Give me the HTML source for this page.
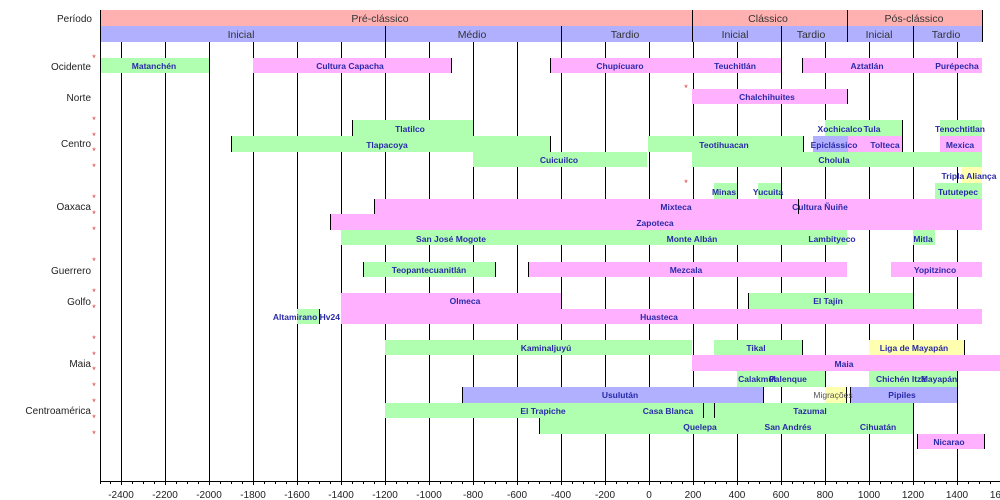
<!DOCTYPE html>
<html><head><meta charset="utf-8"><style>
html,body{margin:0;padding:0;background:#fff}
svg{display:block}
.b{font-family:"Liberation Sans",sans-serif;font-size:8.5px;font-weight:bold;fill:#2a2aa8;text-anchor:middle}
.r{font-family:"Liberation Sans",sans-serif;font-size:10px;fill:#222;text-anchor:end}
.p{font-family:"Liberation Sans",sans-serif;font-size:10.5px;fill:#333;text-anchor:middle}
.a{font-family:"Liberation Sans",sans-serif;font-size:10px;fill:#222;text-anchor:middle}
.s{font-family:"Liberation Sans",sans-serif;font-size:9px;fill:#d03030;text-anchor:middle}
</style></head><body>
<svg width="1000" height="500" xmlns="http://www.w3.org/2000/svg">
<g stroke="#000" stroke-width="1">
<line x1="121.5" y1="42" x2="121.5" y2="481"/><line x1="165.5" y1="42" x2="165.5" y2="481"/>
<line x1="209.5" y1="42" x2="209.5" y2="481"/><line x1="253.5" y1="42" x2="253.5" y2="481"/>
<line x1="297.5" y1="42" x2="297.5" y2="481"/><line x1="341.5" y1="42" x2="341.5" y2="481"/>
<line x1="385.5" y1="42" x2="385.5" y2="481"/><line x1="429.5" y1="42" x2="429.5" y2="481"/>
<line x1="473.5" y1="42" x2="473.5" y2="481"/><line x1="517.5" y1="42" x2="517.5" y2="481"/>
<line x1="561.5" y1="42" x2="561.5" y2="481"/><line x1="605.5" y1="42" x2="605.5" y2="481"/>
<line x1="649.5" y1="42" x2="649.5" y2="481"/><line x1="693.5" y1="42" x2="693.5" y2="481"/>
<line x1="737.5" y1="42" x2="737.5" y2="481"/><line x1="781.5" y1="42" x2="781.5" y2="481"/>
<line x1="825.5" y1="42" x2="825.5" y2="481"/><line x1="869.5" y1="42" x2="869.5" y2="481"/>
<line x1="913.5" y1="42" x2="913.5" y2="481"/><line x1="957.5" y1="42" x2="957.5" y2="481"/>
</g>
<rect x="100" y="10" width="882" height="16" fill="#ffb0b0"/>
<rect x="100" y="26" width="882" height="16" fill="#b0b0ff"/>
<g stroke="#000"><line x1="692.5" y1="10" x2="692.5" y2="42"/><line x1="847.5" y1="10" x2="847.5" y2="42"/>
<line x1="385.5" y1="26" x2="385.5" y2="42"/><line x1="561.5" y1="26" x2="561.5" y2="42"/><line x1="781.5" y1="26" x2="781.5" y2="42"/><line x1="913.5" y1="26" x2="913.5" y2="42"/><line x1="982.5" y1="10" x2="982.5" y2="42"/></g>
<text class="p" x="380" y="22">Pré-clássico</text><text class="p" x="768" y="22">Clássico</text><text class="p" x="914" y="22">Pós-clássico</text>
<text class="p" x="241" y="38">Inicial</text><text class="p" x="472" y="38">Médio</text><text class="p" x="625" y="38">Tardio</text>
<text class="p" x="735" y="38">Inicial</text><text class="p" x="811" y="38">Tardio</text><text class="p" x="879" y="38">Inicial</text><text class="p" x="946" y="38">Tardio</text>

<g>
<rect x="100" y="58" width="109" height="15" fill="#b0ffb0"/>
<rect x="253" y="58" width="198" height="15" fill="#ffb0ff"/>
<rect x="550" y="58" width="142" height="15" fill="#ffb0ff"/>
<rect x="692" y="58" width="89" height="15" fill="#ffb0ff"/>
<rect x="802" y="58" width="133" height="15" fill="#ffb0ff"/>
<rect x="935" y="58" width="47" height="15" fill="#ffb0ff"/>
<rect x="692" y="89" width="155" height="15" fill="#ffb0ff"/>
<rect x="352" y="120" width="121" height="16" fill="#b0ffb0"/>
<rect x="825" y="120" width="77" height="16" fill="#b0ffb0"/>
<rect x="940" y="120" width="42" height="16" fill="#b0ffb0"/>
<rect x="231" y="136" width="319" height="16" fill="#b0ffb0"/>
<rect x="648" y="136" width="155" height="16" fill="#b0ffb0"/>
<rect x="813" y="136" width="35" height="16" fill="#b0b0ff"/>
<rect x="848" y="136" width="54" height="16" fill="#ffb0ff"/>
<rect x="940" y="136" width="42" height="16" fill="#ffb0ff"/>
<rect x="473" y="152" width="174" height="15" fill="#b0ffb0"/>
<rect x="692" y="152" width="290" height="15" fill="#b0ffb0"/>
<rect x="962" y="167" width="20" height="16" fill="#ffffb0"/>
<rect x="714" y="183" width="23" height="16" fill="#b0ffb0"/>
<rect x="758" y="183" width="23" height="16" fill="#b0ffb0"/>
<rect x="935" y="183" width="47" height="16" fill="#b0ffb0"/>
<rect x="374" y="199" width="608" height="15" fill="#ffb0ff"/>
<rect x="330" y="214" width="652" height="16" fill="#ffb0ff"/>
<rect x="341" y="230" width="506" height="15" fill="#b0ffb0"/>
<rect x="913" y="230" width="22" height="15" fill="#b0ffb0"/>
<rect x="363" y="262" width="132" height="15" fill="#b0ffb0"/>
<rect x="528" y="262" width="319" height="15" fill="#ffb0ff"/>
<rect x="891" y="262" width="91" height="15" fill="#ffb0ff"/>
<rect x="341" y="293" width="220" height="16" fill="#ffb0ff"/>
<rect x="748" y="293" width="165" height="16" fill="#b0ffb0"/>
<rect x="297" y="309" width="22" height="15" fill="#b0ffb0"/>
<rect x="341" y="309" width="641" height="15" fill="#ffb0ff"/>
<rect x="385" y="340" width="307" height="15" fill="#b0ffb0"/>
<rect x="714" y="340" width="88" height="15" fill="#b0ffb0"/>
<rect x="869" y="340" width="95" height="15" fill="#ffffb0"/>
<rect x="692" y="355" width="308" height="16" fill="#ffb0ff"/>
<rect x="737" y="371" width="88" height="16" fill="#b0ffb0"/>
<rect x="869" y="371" width="88" height="16" fill="#b0ffb0"/>
<rect x="462" y="387" width="301" height="16" fill="#b0b0ff"/>
<rect x="825" y="387" width="21" height="16" fill="#ffffb0"/>
<rect x="850" y="387" width="107" height="16" fill="#b0b0ff"/>
<rect x="385" y="403" width="528" height="15" fill="#b0ffb0"/>
<rect x="539" y="418" width="374" height="16" fill="#b0ffb0"/>
<rect x="917" y="434" width="67" height="15" fill="#ffb0ff"/>
</g>
<g stroke="#000" stroke-width="1">
<line x1="451.5" y1="58" x2="451.5" y2="73"/><line x1="802.5" y1="58" x2="802.5" y2="73"/><line x1="550.5" y1="58" x2="550.5" y2="73"/>
<line x1="847.5" y1="89" x2="847.5" y2="104"/>
<line x1="352.5" y1="120" x2="352.5" y2="136"/><line x1="902.5" y1="120" x2="902.5" y2="152"/>
<line x1="231.5" y1="136" x2="231.5" y2="152"/><line x1="550.5" y1="136" x2="550.5" y2="152"/><line x1="803.5" y1="136" x2="803.5" y2="152"/>
<line x1="374.5" y1="199" x2="374.5" y2="214"/><line x1="330.5" y1="214" x2="330.5" y2="230"/><line x1="798.5" y1="199" x2="798.5" y2="214"/>
<line x1="363.5" y1="262" x2="363.5" y2="277"/><line x1="495.5" y1="262" x2="495.5" y2="277"/><line x1="528.5" y1="262" x2="528.5" y2="277"/>
<line x1="319.5" y1="309" x2="319.5" y2="324"/><line x1="748.5" y1="293" x2="748.5" y2="309"/>
<line x1="802.5" y1="340" x2="802.5" y2="355"/><line x1="964.5" y1="340" x2="964.5" y2="355"/>
<line x1="462.5" y1="387" x2="462.5" y2="403"/><line x1="763.5" y1="387" x2="763.5" y2="403"/><line x1="846.5" y1="387" x2="846.5" y2="403"/><line x1="850.5" y1="387" x2="850.5" y2="403"/>
<line x1="703.5" y1="403" x2="703.5" y2="418"/><line x1="714.5" y1="403" x2="714.5" y2="418"/>
<line x1="539.5" y1="418" x2="539.5" y2="434"/><line x1="984.5" y1="434" x2="984.5" y2="449"/><line x1="917.5" y1="434" x2="917.5" y2="449"/>
</g>
<g class="b">
<text x="154" y="69">Matanchén</text><text x="350" y="69">Cultura Capacha</text><text x="620" y="69">Chupícuaro</text>
<text x="735" y="69">Teuchitlán</text><text x="867" y="69">Aztatlán</text><text x="957" y="69">Purépecha</text>
<text x="767" y="100">Chalchihuites</text>
<text x="410" y="132">Tlatilco</text><text x="840" y="132">Xochicalco</text><text x="872" y="132">Tula</text><text x="960" y="132">Tenochtitlan</text>
<text x="387" y="148">Tlapacoya</text><text x="724" y="148">Teotihuacan</text><text x="834" y="148">Epiclássico</text><text x="885" y="148">Tolteca</text><text x="960" y="148">Mexica</text>
<text x="559" y="163">Cuicuilco</text><text x="834" y="163">Cholula</text>
<text x="969" y="179">Tripla Aliança</text>
<text x="724" y="195">Minas</text><text x="768" y="195">Yucuita</text><text x="958" y="195">Tututepec</text>
<text x="676" y="210">Mixteca</text><text x="820" y="210">Cultura Ñuiñe</text>
<text x="655" y="226">Zapoteca</text>
<text x="451" y="242">San José Mogote</text><text x="692" y="242">Monte Albán</text><text x="832" y="242">Lambityeco</text><text x="923" y="242">Mitla</text>
<text x="429" y="273">Teopantecuanitlán</text><text x="686" y="273">Mezcala</text><text x="935" y="273">Yopitzinco</text>
<text x="465" y="304">Olmeca</text><text x="828" y="304">El Tajín</text>
<text x="340" y="320" style="text-anchor:end">Altamirano Hv24</text><text x="659" y="320">Huasteca</text>
<text x="546" y="351">Kaminaljuyú</text><text x="756" y="351">Tikal</text><text x="914" y="351">Liga de Mayapán</text>
<text x="844" y="367">Maia</text>
<text x="757" y="382">Calakmul</text><text x="788" y="382">Palenque</text><text x="901" y="382">Chichén Itzá</text><text x="939" y="382">Mayapán</text>
<text x="620" y="398">Usulután</text><text x="833" y="398" style="fill:#555;font-weight:normal">Migrações</text><text x="902" y="398">Pipiles</text>
<text x="543" y="414">El Trapiche</text><text x="668" y="414">Casa Blanca</text><text x="810" y="414">Tazumal</text>
<text x="700" y="430">Quelepa</text><text x="788" y="430">San Andrés</text><text x="878" y="430">Cihuatán</text>
<text x="949" y="445">Nicarao</text>
</g>
<g class="r">
<text x="92" y="22">Período</text><text x="91" y="70">Ocidente</text><text x="91" y="101">Norte</text>
<text x="91" y="147">Centro</text><text x="91" y="210">Oaxaca</text><text x="91" y="274">Guerrero</text>
<text x="91" y="305">Golfo</text><text x="91" y="367">Maia</text><text x="91" y="414">Centroamérica</text>
</g>
<g class="s">
<text x="94" y="61">*</text><text x="94" y="123">*</text><text x="94" y="139">*</text><text x="94" y="154">*</text><text x="94" y="170">*</text>
<text x="94" y="201">*</text><text x="94" y="217">*</text><text x="94" y="233">*</text><text x="94" y="264">*</text>
<text x="94" y="295">*</text><text x="94" y="311">*</text><text x="94" y="342">*</text><text x="94" y="358">*</text><text x="94" y="373">*</text>
<text x="94" y="389">*</text><text x="94" y="405">*</text><text x="94" y="421">*</text><text x="94" y="437">*</text>
<text x="686" y="91">*</text><text x="686" y="186">*</text>
</g>
<g stroke="#000" stroke-width="1">
<line x1="100.5" y1="10" x2="100.5" y2="484"/>
<line x1="100" y1="481.5" x2="1000" y2="481.5"/>
</g>
<g stroke="#000" stroke-width="1">
<path d="M110.5 481v3M121.5 481v4M132.5 481v3M143.5 481v3M154.5 481v3M165.5 481v4M176.5 481v3M187.5 481v3M198.5 481v3M209.5 481v4M220.5 481v3M231.5 481v3M242.5 481v3M253.5 481v4M264.5 481v3M275.5 481v3M286.5 481v3M297.5 481v4M308.5 481v3M319.5 481v3M330.5 481v3M341.5 481v4M352.5 481v3M363.5 481v3M374.5 481v3M385.5 481v4M396.5 481v3M407.5 481v3M418.5 481v3M429.5 481v4M440.5 481v3M451.5 481v3M462.5 481v3M473.5 481v4M484.5 481v3M495.5 481v3M506.5 481v3M517.5 481v4M528.5 481v3M539.5 481v3M550.5 481v3M561.5 481v4M572.5 481v3M583.5 481v3M594.5 481v3M605.5 481v4M616.5 481v3M627.5 481v3M638.5 481v3M649.5 481v4M660.5 481v3M671.5 481v3M682.5 481v3M693.5 481v4M704.5 481v3M715.5 481v3M726.5 481v3M737.5 481v4M748.5 481v3M759.5 481v3M770.5 481v3M781.5 481v4M792.5 481v3M803.5 481v3M814.5 481v3M825.5 481v4M836.5 481v3M847.5 481v3M858.5 481v3M869.5 481v4M880.5 481v3M891.5 481v3M902.5 481v3M913.5 481v4M924.5 481v3M935.5 481v3M946.5 481v3M957.5 481v4M968.5 481v3M979.5 481v3M990.5 481v3"/>
</g>
<g class="a">
<text x="121" y="498">-2400</text><text x="165" y="498">-2200</text><text x="209" y="498">-2000</text><text x="253" y="498">-1800</text>
<text x="297" y="498">-1600</text><text x="341" y="498">-1400</text><text x="385" y="498">-1200</text><text x="429" y="498">-1000</text>
<text x="473" y="498">-800</text><text x="517" y="498">-600</text><text x="561" y="498">-400</text><text x="605" y="498">-200</text>
<text x="649" y="498">0</text><text x="693" y="498">200</text><text x="737" y="498">400</text><text x="781" y="498">600</text>
<text x="825" y="498">800</text><text x="869" y="498">1000</text><text x="913" y="498">1200</text><text x="957" y="498">1400</text>
<text x="1001" y="498">1600</text>
</g>
</svg>
</body></html>
